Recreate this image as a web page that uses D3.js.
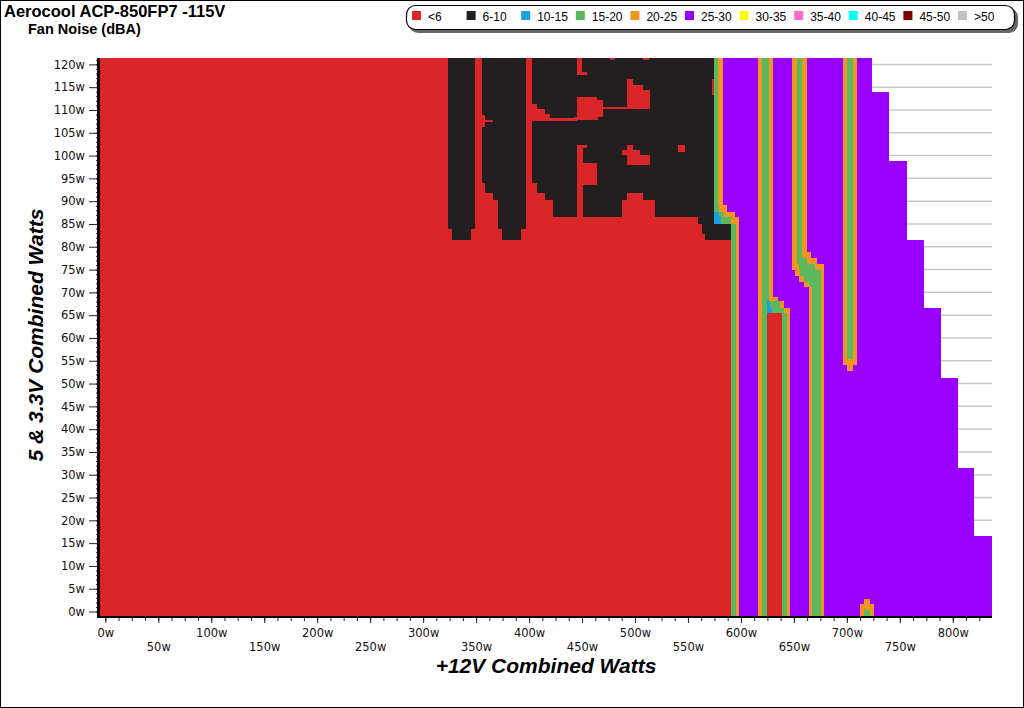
<!DOCTYPE html>
<html><head><meta charset="utf-8">
<script src="https://cdn.jsdelivr.net/npm/d3@7"></script>
<style>
body{margin:0;background:#fff;}
svg{display:block;font-family:"Liberation Sans",Arial,sans-serif;}
.tick text{font-family:"DejaVu Sans",Verdana,sans-serif;font-size:11.5px;fill:#111;}
</style></head><body>
<svg id="chart" width="1024" height="708"></svg>
<script>
// ---------- data ----------
const categories = ["<6","6-10","10-15","15-20","20-25","25-30","30-35","35-40","40-45","45-50",">50"];
const palette = ["#da2529","#231f20","#1ba1e2","#5cb85c","#ef9622","#9900ff","#ffff00","#ff69c8","#00ffff","#800000","#c0c0c0"];
const xTickValues = d3.range(0, 801, 50);
const yTickValues = d3.range(0, 121, 5);

// measured area, base class 25-30: [x0, x1(+12V W), yTop, yBottom (5&3.3V W)]
const measuredArea = [
  [-5, 723.7, 121.4, 113.9],
  [-5, 739.8, 113.9, 98.8],
  [-5, 756.8, 98.8, 81.4],
  [-5, 772.9, 81.4, 66.5],
  [-5, 789.0, 66.5, 51.3],
  [-5, 805.0, 51.3, 31.5],
  [-5, 820.1, 31.5, 16.6],
  [-5, 836.6, 16.6, -1.2]
];
// [class, x0, x1, yTop, yBottom]
const quietZones = [
  [0, -5, 574.8, 121.4, 85.1],
  [0, -5, 590.4, 85.1, -1.2]
];
const blackZones = [
  [1, 323.1, 348.9, 121.4, 84.0],
  [1, 327.2, 344.9, 84.0, 81.4],
  [1, 355.2, 397.0, 121.4, 93.9],
  [1, 358.4, 397.0, 93.9, 91.7],
  [1, 366.2, 397.0, 91.7, 90.2],
  [1, 370.9, 397.0, 90.2, 84.0],
  [1, 374.9, 392.8, 84.0, 81.4],
  [1, 402.5, 574.8, 121.4, 93.9],
  [1, 407.2, 574.8, 93.9, 91.7],
  [1, 415.0, 574.8, 91.7, 90.2],
  [1, 422.9, 574.8, 90.2, 86.6],
  [1, 559.8, 574.8, 86.6, 85.1],
  [1, 563.0, 590.4, 85.1, 82.9],
  [1, 566.1, 590.4, 82.9, 81.4]
];
const quietPockets = [
  [0, 476.4, 481.5, 121.4, 120.9],
  [0, 507.8, 513.5, 121.4, 120.9],
  [0, 444.9, 449.7, 121.4, 118.4],
  [0, 444.9, 454.4, 118.4, 117.6],
  [0, 572.5, 574.8, 116.9, 113.2],
  [0, 492.2, 498.5, 116.9, 115.5],
  [0, 492.2, 507.8, 115.5, 114.4],
  [0, 492.2, 514.2, 114.4, 110.7],
  [0, 465.3, 514.2, 110.7, 110.3],
  [0, 444.9, 464.0, 112.9, 112.2],
  [0, 444.9, 470.1, 112.2, 108.5],
  [0, 442.8, 464.9, 108.5, 107.8],
  [0, 402.5, 407.2, 111.4, 110.3],
  [0, 402.5, 415.0, 110.3, 109.2],
  [0, 402.5, 419.7, 109.2, 108.2],
  [0, 402.5, 444.9, 108.2, 107.6],
  [0, 355.2, 358.4, 108.9, 106.3],
  [0, 358.4, 366.2, 107.8, 107.4],
  [0, 444.9, 454.4, 102.3, 101.6],
  [0, 444.9, 451.2, 101.6, 86.6],
  [0, 449.7, 464.0, 98.3, 93.5],
  [0, 492.2, 498.5, 102.3, 101.2],
  [0, 488.0, 505.0, 101.2, 100.1],
  [0, 492.2, 514.2, 100.1, 97.9],
  [0, 540.9, 547.2, 102.3, 100.7],
  [0, 492.2, 507.8, 91.7, 90.2],
  [0, 488.0, 518.9, 90.2, 86.6]
];
const bandZones = [
  [3, 574.8, 578.0, 121.4, 89.1],
  [4, 578.0, 582.8, 121.4, 89.1],
  [3, 574.8, 579.2, 89.1, 87.7],
  [4, 579.2, 586.6, 89.1, 87.7],
  [2, 574.8, 579.5, 87.7, 86.6],
  [3, 579.5, 583.6, 87.7, 86.6],
  [4, 583.6, 594.7, 87.7, 86.6],
  [2, 574.8, 581.6, 86.6, 85.1],
  [3, 581.6, 591.0, 86.6, 85.1],
  [4, 591.0, 598.5, 86.6, 85.1],
  [3, 590.4, 594.9, 85.1, -1.2],
  [4, 594.9, 598.5, 85.1, -1.2],
  [4, 616.4, 619.6, 121.4, -1.2],
  [3, 619.6, 624.4, 121.4, -1.2],
  [3, 624.4, 626.5, 121.4, 68.0],
  [4, 626.5, 630.6, 121.4, 69.0],
  [4, 626.5, 635.3, 69.0, 68.0],
  [2, 624.4, 627.5, 68.0, 66.5],
  [3, 627.5, 637.0, 68.0, 66.5],
  [4, 637.0, 641.0, 68.0, 66.5],
  [2, 624.4, 629.0, 66.5, 65.4],
  [3, 629.0, 640.5, 66.5, 65.4],
  [4, 640.5, 646.4, 66.5, 65.4],
  [0, 624.4, 638.5, 65.4, -1.2],
  [3, 638.5, 643.3, 65.4, -1.2],
  [4, 643.3, 646.4, 65.4, -1.2],
  [4, 648.5, 652.7, 121.4, 76.2],
  [3, 652.7, 658.0, 121.4, 77.5],
  [4, 658.0, 662.1, 121.4, 78.8],
  [4, 658.0, 666.0, 78.8, 77.5],
  [3, 652.7, 662.0, 77.5, 76.2],
  [4, 662.0, 672.0, 77.5, 76.2],
  [4, 648.5, 655.0, 76.2, 74.9],
  [3, 655.0, 670.0, 76.2, 74.9],
  [4, 670.0, 678.5, 76.2, 74.9],
  [4, 651.0, 656.0, 74.9, 73.6],
  [3, 656.0, 675.4, 74.9, 73.6],
  [4, 655.0, 660.0, 73.6, 72.3],
  [3, 660.0, 675.4, 73.6, 72.3],
  [4, 660.0, 664.3, 72.3, 71.2],
  [3, 664.3, 675.4, 72.3, 71.2],
  [4, 664.3, 667.4, 71.2, -1.2],
  [3, 667.4, 675.4, 71.2, -1.2],
  [4, 675.4, 678.5, 74.9, -1.2],
  [4, 696.1, 699.9, 121.4, 55.4],
  [3, 699.9, 706.1, 121.4, 55.4],
  [4, 706.1, 709.9, 121.4, 55.4],
  [4, 696.1, 709.9, 55.4, 54.1],
  [4, 699.9, 706.1, 54.1, 52.8],
  [4, 712.1, 725.4, 1.7, -1.2],
  [4, 715.9, 721.6, 2.8, 1.7],
  [3, 715.9, 721.6, 0.4, -1.2]
];

// ---------- drawing ----------
const svg = d3.select("#chart");
const x = d3.scaleLinear().domain([-5, 837]).range([100, 992]);
const y = d3.scaleLinear().domain([-1.2, 121.4]).range([617, 58]);

svg.append("rect").attr("x",0.5).attr("y",0.5).attr("width",1023).attr("height",707)
  .attr("fill","#fff").attr("stroke","#000").attr("stroke-width",1);

// gridlines
svg.append("g").selectAll("line").data(yTickValues).join("line")
  .attr("x1", x(-5)).attr("x2", x(837))
  .attr("y1", d => y(d)).attr("y2", d => y(d))
  .attr("stroke", "#c8c8c8").attr("stroke-width", 1.5);

// cells
const cells = [measuredArea.map(d => [5, ...d]), quietZones, blackZones, quietPockets, bandZones].flat();
svg.append("g").attr("shape-rendering","crispEdges")
  .selectAll("rect").data(cells).join("rect")
  .attr("x", d => x(d[1])).attr("width", d => x(d[2]) - x(d[1]))
  .attr("y", d => y(d[3])).attr("height", d => y(d[4]) - y(d[3]))
  .attr("fill", d => palette[d[0]]);

// y axis
const yMinor = svg.append("g").attr("transform","translate(99,0)")
  .call(d3.axisLeft(y).tickValues(d3.range(0, 122, 1)).tickSize(3).tickFormat(""));
yMinor.select(".domain").remove();
yMinor.selectAll("line").attr("stroke","#222");
const yAxis = svg.append("g").attr("transform","translate(99,0)")
  .call(d3.axisLeft(y).tickValues(yTickValues).tickSize(10).tickPadding(4).tickFormat(d => d + "w"));
yAxis.select(".domain").remove();
yAxis.selectAll("line").attr("stroke","#555");
svg.append("line").attr("x1",98.5).attr("x2",98.5).attr("y1",58).attr("y2",618).attr("stroke","#000").attr("stroke-width",3);

// x axis
const xMinor = svg.append("g").attr("transform","translate(0,617)")
  .call(d3.axisBottom(x).tickValues(d3.range(0, 837, 12.5)).tickSize(4).tickFormat(""));
xMinor.select(".domain").remove();
xMinor.selectAll("line").attr("stroke","#222");
const xAxisA = svg.append("g").attr("transform","translate(0,617)")
  .call(d3.axisBottom(x).tickValues(xTickValues.filter(d => d % 100 === 0)).tickSize(6).tickPadding(6).tickFormat(d => d + "w"));
xAxisA.select(".domain").remove();
const xAxisB = svg.append("g").attr("transform","translate(0,617)")
  .call(d3.axisBottom(x).tickValues(xTickValues.filter(d => d % 100 !== 0)).tickSize(6).tickPadding(19.5).tickFormat(d => d + "w"));
xAxisB.select(".domain").remove();
svg.selectAll(".tick line").attr("stroke","#222");
svg.append("line").attr("x1",97).attr("x2",992).attr("y1",617).attr("y2",617).attr("stroke","#000").attr("stroke-width",2);

// titles
svg.append("text").attr("x",4).attr("y",16.5).attr("font-size",16.5).attr("font-weight","bold").text("Aerocool ACP-850FP7 -115V");
svg.append("text").attr("x",28).attr("y",33.5).attr("font-size",14.5).attr("font-weight","bold").text("Fan Noise (dBA)");
svg.append("text").attr("x",546).attr("y",673).attr("text-anchor","middle").attr("font-size",21)
  .attr("font-weight","bold").attr("font-style","italic").text("+12V Combined Watts");
svg.append("text").attr("transform","translate(43,335) rotate(-90)").attr("text-anchor","middle").attr("font-size",21)
  .attr("font-weight","bold").attr("font-style","italic").text("5 & 3.3V Combined Watts");

// legend
const lg = svg.append("g");
lg.append("rect").attr("x",409).attr("y",8).attr("width",609).attr("height",25).attr("rx",9).attr("fill","#666");
lg.append("rect").attr("x",406.5).attr("y",5.5).attr("width",608).attr("height",24).attr("rx",9)
  .attr("fill","#fff").attr("stroke","#000").attr("stroke-width",1.2);
const li = lg.selectAll("g.item").data(categories).join("g").attr("class","item")
  .attr("transform",(d,i) => `translate(${412 + i*54.6},0)`);
li.append("rect").attr("x",0).attr("y",11).attr("width",9).attr("height",9).attr("fill",(d,i) => palette[i]);
li.append("text").attr("x",16).attr("y",21).attr("font-size",12).text(d => d);
</script>
</body></html>
